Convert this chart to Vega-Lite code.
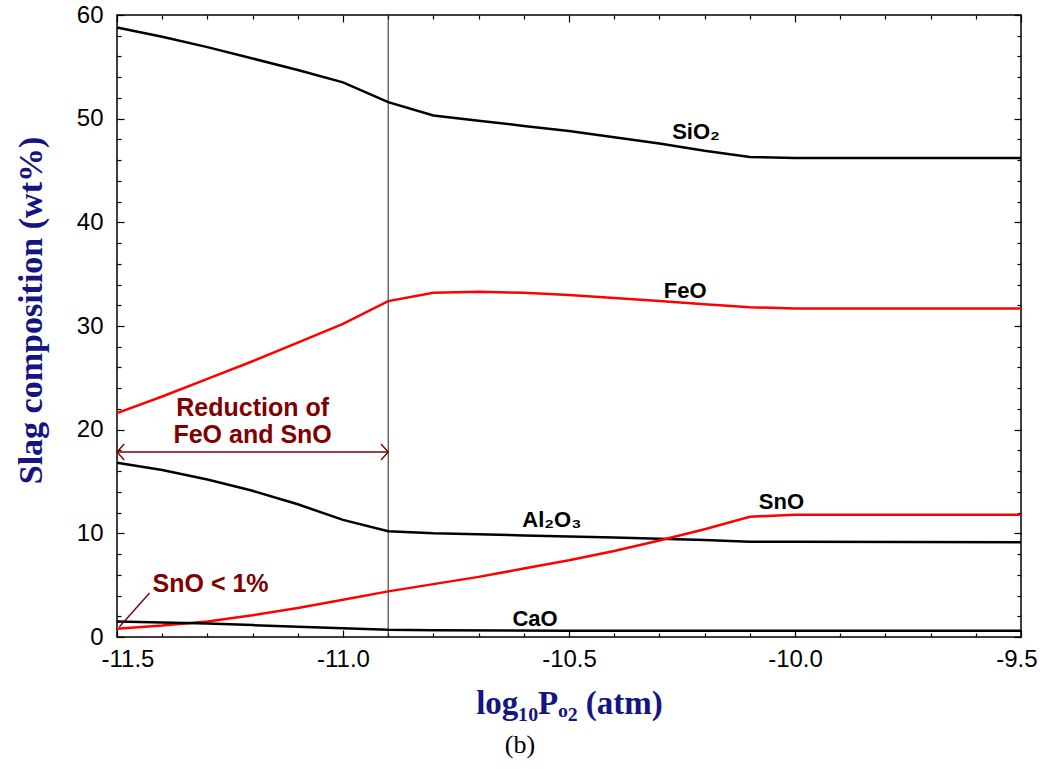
{
  "$schema": "https://vega.github.io/schema/vega-lite/v6.json",
  "width": 904,
  "height": 622,
  "autosize": {"type": "none"},
  "padding": {"left": 117, "top": 15, "right": 25, "bottom": 132},
  "background": "white",
  "config": {
    "view": {"stroke": "black", "strokeWidth": 1.5},
    "axis": {"grid": false, "domain": false}
  },
  "title": {
    "text": "(b)",
    "orient": "bottom",
    "anchor": "middle",
    "frame": "group",
    "font": "Liberation Serif",
    "fontSize": 26,
    "fontWeight": "normal",
    "color": "black",
    "dx": -49,
    "offset": 12,
    "baseline": "top"
  },
  "datasets": {
    "lines": [
      {"species": "SiO2", "p": -11.5, "w": 58.8},
      {"species": "SiO2", "p": -11.4, "w": 57.9},
      {"species": "SiO2", "p": -11.3, "w": 56.9},
      {"species": "SiO2", "p": -11.2, "w": 55.8},
      {"species": "SiO2", "p": -11.1, "w": 54.7},
      {"species": "SiO2", "p": -11.0, "w": 53.5},
      {"species": "SiO2", "p": -10.9, "w": 51.6},
      {"species": "SiO2", "p": -10.8, "w": 50.3},
      {"species": "SiO2", "p": -10.7, "w": 49.8},
      {"species": "SiO2", "p": -10.6, "w": 49.3},
      {"species": "SiO2", "p": -10.5, "w": 48.8},
      {"species": "SiO2", "p": -10.4, "w": 48.2},
      {"species": "SiO2", "p": -10.3, "w": 47.6},
      {"species": "SiO2", "p": -10.2, "w": 46.9},
      {"species": "SiO2", "p": -10.1, "w": 46.3},
      {"species": "SiO2", "p": -10.0, "w": 46.2},
      {"species": "SiO2", "p": -9.5, "w": 46.2},
      {"species": "FeO", "p": -11.5, "w": 21.6},
      {"species": "FeO", "p": -11.4, "w": 23.2},
      {"species": "FeO", "p": -11.3, "w": 24.9},
      {"species": "FeO", "p": -11.2, "w": 26.6},
      {"species": "FeO", "p": -11.1, "w": 28.4},
      {"species": "FeO", "p": -11.0, "w": 30.2},
      {"species": "FeO", "p": -10.9, "w": 32.4},
      {"species": "FeO", "p": -10.8, "w": 33.2},
      {"species": "FeO", "p": -10.7, "w": 33.3},
      {"species": "FeO", "p": -10.6, "w": 33.2},
      {"species": "FeO", "p": -10.5, "w": 33.0},
      {"species": "FeO", "p": -10.4, "w": 32.7},
      {"species": "FeO", "p": -10.3, "w": 32.4},
      {"species": "FeO", "p": -10.2, "w": 32.1},
      {"species": "FeO", "p": -10.1, "w": 31.8},
      {"species": "FeO", "p": -10.0, "w": 31.7},
      {"species": "FeO", "p": -9.5, "w": 31.7},
      {"species": "Al2O3", "p": -11.5, "w": 16.8},
      {"species": "Al2O3", "p": -11.4, "w": 16.1},
      {"species": "Al2O3", "p": -11.3, "w": 15.2},
      {"species": "Al2O3", "p": -11.2, "w": 14.1},
      {"species": "Al2O3", "p": -11.1, "w": 12.8},
      {"species": "Al2O3", "p": -11.0, "w": 11.3},
      {"species": "Al2O3", "p": -10.9, "w": 10.2},
      {"species": "Al2O3", "p": -10.8, "w": 10.0},
      {"species": "Al2O3", "p": -10.6, "w": 9.8},
      {"species": "Al2O3", "p": -10.4, "w": 9.6},
      {"species": "Al2O3", "p": -10.2, "w": 9.35},
      {"species": "Al2O3", "p": -10.1, "w": 9.2},
      {"species": "Al2O3", "p": -10.0, "w": 9.2},
      {"species": "Al2O3", "p": -9.5, "w": 9.15},
      {"species": "SnO", "p": -11.5, "w": 0.8},
      {"species": "SnO", "p": -11.4, "w": 1.1},
      {"species": "SnO", "p": -11.3, "w": 1.5},
      {"species": "SnO", "p": -11.2, "w": 2.1},
      {"species": "SnO", "p": -11.1, "w": 2.8},
      {"species": "SnO", "p": -11.0, "w": 3.6},
      {"species": "SnO", "p": -10.9, "w": 4.4},
      {"species": "SnO", "p": -10.8, "w": 5.1},
      {"species": "SnO", "p": -10.7, "w": 5.8},
      {"species": "SnO", "p": -10.6, "w": 6.6},
      {"species": "SnO", "p": -10.5, "w": 7.4},
      {"species": "SnO", "p": -10.4, "w": 8.3},
      {"species": "SnO", "p": -10.3, "w": 9.3},
      {"species": "SnO", "p": -10.2, "w": 10.4},
      {"species": "SnO", "p": -10.1, "w": 11.6},
      {"species": "SnO", "p": -10.0, "w": 11.8},
      {"species": "SnO", "p": -9.5, "w": 11.8},
      {"species": "CaO", "p": -11.5, "w": 1.5},
      {"species": "CaO", "p": -11.4, "w": 1.4},
      {"species": "CaO", "p": -11.3, "w": 1.3},
      {"species": "CaO", "p": -11.2, "w": 1.15},
      {"species": "CaO", "p": -11.1, "w": 1.0},
      {"species": "CaO", "p": -11.0, "w": 0.85},
      {"species": "CaO", "p": -10.9, "w": 0.7},
      {"species": "CaO", "p": -10.8, "w": 0.65},
      {"species": "CaO", "p": -10.5, "w": 0.6},
      {"species": "CaO", "p": -10.0, "w": 0.6},
      {"species": "CaO", "p": -9.5, "w": 0.6}
    ],
    "labels": [
      {"label": "SiO₂", "p": -10.219, "w": 48.0},
      {"label": "FeO", "p": -10.243, "w": 32.7},
      {"label": "Al₂O₃", "p": -10.538, "w": 10.6},
      {"label": "SnO", "p": -10.03, "w": 12.35},
      {"label": "CaO", "p": -10.575, "w": 1.06}
    ],
    "notes": [
      {"label": "Reduction of\nFeO and SnO", "p": -11.2, "w": 21.3},
      {"label": "SnO < 1%", "p": -11.293, "w": 4.34}
    ],
    "arrow": [{"p": -11.5, "p2": -10.9, "w": 17.85}],
    "heads": [
      {"p": -11.5, "w": 17.85, "side": "left"},
      {"p": -10.9, "w": 17.85, "side": "right"}
    ],
    "leader": [{"p": -11.495, "w": 0.96, "p2": -11.428, "w2": 4.24}],
    "vline": [{"p": -10.9}]
  },
  "layer": [
    {
      "data": {"name": "vline"},
      "mark": {"type": "rule", "color": "#222222", "strokeWidth": 1},
      "encoding": {
        "x": {"field": "p", "type": "quantitative", "scale": {"domain": [-11.5, -9.5], "nice": false, "zero": false}, "axis": null}
      }
    },
    {
      "data": {"name": "lines"},
      "mark": {"type": "line", "strokeWidth": 2.5},
      "encoding": {
        "x": {
          "field": "p", "type": "quantitative",
          "scale": {"domain": [-11.5, -9.5], "nice": false, "zero": false},
          "axis": {
            "orient": "bottom", "title": null, "labels": false, "ticks": true,
            "values": [-11.5, -11.4, -11.3, -11.2, -11.1, -11.0, -10.9, -10.8, -10.7, -10.6, -10.5, -10.4, -10.3, -10.2, -10.1, -10.0, -9.9, -9.8, -9.7, -9.6, -9.5],
            "tickColor": "black", "tickWidth": 1.2,
            "tickSize": {"condition": {"test": "abs(datum.value*2 - round(datum.value*2)) < 0.001", "value": -7}, "value": -4}
          }
        },
        "y": {
          "field": "w", "type": "quantitative",
          "scale": {"domain": [0, 60], "nice": false},
          "axis": {
            "orient": "left", "title": null, "labels": false, "ticks": true,
            "values": [0, 2, 4, 6, 8, 10, 12, 14, 16, 18, 20, 22, 24, 26, 28, 30, 32, 34, 36, 38, 40, 42, 44, 46, 48, 50, 52, 54, 56, 58, 60],
            "tickColor": "black", "tickWidth": 1.2,
            "tickSize": {"condition": {"test": "datum.value % 10 === 0", "value": -7}, "value": -4}
          }
        },
        "color": {
          "field": "species", "type": "nominal",
          "scale": {"domain": ["SiO2", "FeO", "Al2O3", "SnO", "CaO"], "range": ["black", "#ff0000", "black", "#ff0000", "black"]},
          "legend": null
        }
      }
    },
    {
      "data": {"name": "arrow"},
      "mark": {"type": "rule", "color": "#800000", "strokeWidth": 1.4},
      "encoding": {
        "x": {
          "field": "p", "type": "quantitative",
          "scale": {"domain": [-11.5, -9.5], "nice": false, "zero": false},
          "axis": {
            "orient": "top", "title": null, "labels": false, "ticks": true,
            "values": [-11.5, -11.4, -11.3, -11.2, -11.1, -11.0, -10.9, -10.8, -10.7, -10.6, -10.5, -10.4, -10.3, -10.2, -10.1, -10.0, -9.9, -9.8, -9.7, -9.6, -9.5],
            "tickColor": "black", "tickWidth": 1.2,
            "tickSize": {"condition": {"test": "abs(datum.value*2 - round(datum.value*2)) < 0.001", "value": -7}, "value": -4}
          }
        },
        "x2": {"field": "p2"},
        "y": {
          "field": "w", "type": "quantitative",
          "scale": {"domain": [0, 60], "nice": false},
          "axis": {
            "orient": "right", "title": null, "labels": false, "ticks": true,
            "values": [0, 2, 4, 6, 8, 10, 12, 14, 16, 18, 20, 22, 24, 26, 28, 30, 32, 34, 36, 38, 40, 42, 44, 46, 48, 50, 52, 54, 56, 58, 60],
            "tickColor": "black", "tickWidth": 1.2,
            "tickSize": {"condition": {"test": "datum.value % 10 === 0", "value": -7}, "value": -4}
          }
        }
      }
    },
    {
      "data": {"name": "heads"},
      "mark": {"type": "point", "filled": false, "stroke": "#800000", "strokeWidth": 1.4, "size": 256, "opacity": 1},
      "encoding": {
        "x": {"field": "p", "type": "quantitative", "axis": null},
        "y": {"field": "w", "type": "quantitative", "axis": null},
        "shape": {
          "field": "side", "type": "nominal",
          "scale": {"domain": ["left", "right"], "range": ["M0.9,-1L0,0L0.9,1", "M-0.9,-1L0,0L-0.9,1"]},
          "legend": null
        }
      }
    },
    {
      "data": {"name": "leader"},
      "mark": {"type": "rule", "color": "#800000", "strokeWidth": 1.4},
      "encoding": {
        "x": {"field": "p", "type": "quantitative", "axis": null},
        "x2": {"field": "p2"},
        "y": {"field": "w", "type": "quantitative", "axis": null},
        "y2": {"field": "w2"}
      }
    },
    {
      "data": {"name": "labels"},
      "mark": {"type": "text", "font": "Liberation Sans", "fontWeight": "bold", "fontSize": 22, "color": "black", "align": "center", "baseline": "alphabetic"},
      "encoding": {
        "x": {
          "field": "p", "type": "quantitative",
          "scale": {"domain": [-11.5, -9.5], "nice": false, "zero": false},
          "axis": {
            "orient": "bottom", "ticks": false,
            "values": [-11.5, -11.0, -10.5, -10.0, -9.5],
            "labelExpr": "replace(format(datum.value, '.1f'), '\u2212', '-')",
            "labelFont": "Liberation Sans", "labelFontSize": 24, "labelColor": "black",
            "labelPadding": 10, "labelFlush": true, "labelFlushOffset": 16, "labelOverlap": false,
            "title": "log₁₀Pₒ₂ (atm)",
            "titleFont": "Liberation Serif", "titleFontSize": 33, "titleFontWeight": "bold", "titleColor": "#141482",
            "titleX": 452, "titleY": 66, "titleAlign": "center", "titleBaseline": "middle"
          }
        },
        "y": {
          "field": "w", "type": "quantitative",
          "scale": {"domain": [0, 60], "nice": false},
          "axis": {
            "orient": "left", "ticks": false,
            "values": [0, 10, 20, 30, 40, 50, 60],
            "labelFont": "Liberation Sans", "labelFontSize": 24, "labelColor": "black",
            "labelPadding": 14, "labelOverlap": false,
            "title": "Slag composition (wt%)",
            "titleFont": "Liberation Serif", "titleFontSize": 34, "titleFontWeight": "bold", "titleColor": "#141482",
            "titleX": -86, "titleY": 295, "titleAngle": -90, "titleAlign": "center", "titleBaseline": "middle"
          }
        },
        "text": {"field": "label", "type": "nominal"}
      }
    },
    {
      "data": {"name": "notes"},
      "mark": {"type": "text", "font": "Liberation Sans", "fontWeight": "bold", "fontSize": 25, "color": "#800000", "align": "center", "baseline": "alphabetic", "lineBreak": "\n", "lineHeight": 27},
      "encoding": {
        "x": {"field": "p", "type": "quantitative", "axis": null},
        "y": {"field": "w", "type": "quantitative", "axis": null},
        "text": {"field": "label", "type": "nominal"}
      }
    }
  ],
  "resolve": {"axis": {"x": "independent", "y": "independent"}}
}
